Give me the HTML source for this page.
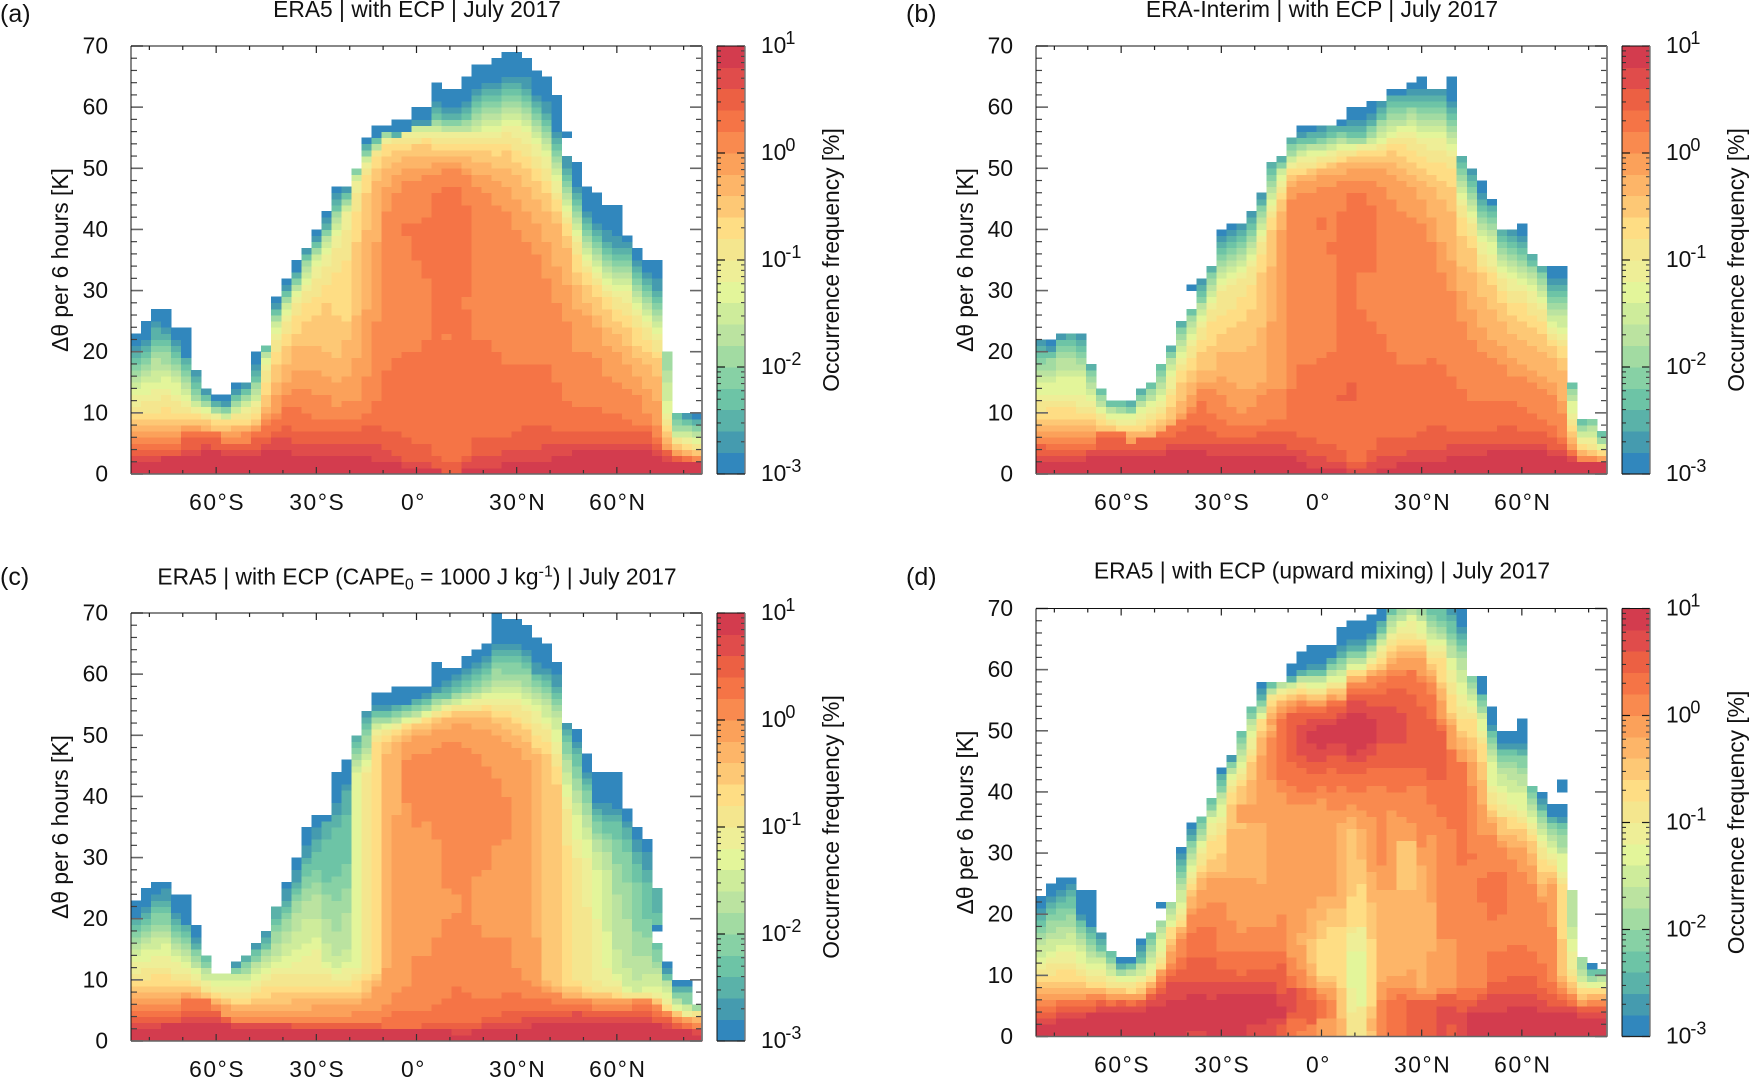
<!DOCTYPE html>
<html lang="en">
<head>
<meta charset="utf-8">
<title>Occurrence frequency of potential temperature change, July 2017</title>
<style>
html,body{margin:0;padding:0;background:#fff;}
svg{display:block;font-family:"Liberation Sans",sans-serif;fill:#111;}
text{font-size:22.8px;}
.plabel{font-size:25px;}
</style>
</head>
<body>
<svg id="figure" width="1749" height="1077" viewBox="0 0 1749 1077" xmlns="http://www.w3.org/2000/svg">
<g id="panel-a" transform="translate(131,46)">
<text class="plabel" x="-131" y="-24">(a)</text>
<text x="286" y="-29" text-anchor="middle">ERA5 | with ECP | July 2017</text>
<text transform="translate(-63,214) rotate(-90)" text-anchor="middle">Δθ per 6 hours [K]</text>
<text transform="translate(708,214) rotate(-90)" text-anchor="middle">Occurrence frequency [%]</text>
</g>
<g id="panel-b" transform="translate(1036,46)">
<text class="plabel" x="-130" y="-24">(b)</text>
<text x="286" y="-29" text-anchor="middle">ERA-Interim | with ECP | July 2017</text>
<text transform="translate(-63,214) rotate(-90)" text-anchor="middle">Δθ per 6 hours [K]</text>
<text transform="translate(708,214) rotate(-90)" text-anchor="middle">Occurrence frequency [%]</text>
</g>
<g id="panel-c" transform="translate(131,613)">
<text class="plabel" x="-131" y="-28">(c)</text>
<text x="286" y="-28.5" text-anchor="middle">ERA5 | with ECP (CAPE<tspan dy="5" font-size="16">0</tspan><tspan dy="-5"> = 1000 J kg</tspan><tspan dy="-8" font-size="16">-1</tspan><tspan dy="8">) | July 2017</tspan></text>
<text transform="translate(-63,214) rotate(-90)" text-anchor="middle">Δθ per 6 hours [K]</text>
<text transform="translate(708,214) rotate(-90)" text-anchor="middle">Occurrence frequency [%]</text>
</g>
<g id="panel-d" transform="translate(1036,608.5)">
<text class="plabel" x="-130" y="-23.5">(d)</text>
<text x="286" y="-29.8" text-anchor="middle">ERA5 | with ECP (upward mixing) | July 2017</text>
<text transform="translate(-63,214) rotate(-90)" text-anchor="middle">Δθ per 6 hours [K]</text>
<text transform="translate(708,214) rotate(-90)" text-anchor="middle">Occurrence frequency [%]</text>
</g>
</svg>
<script>
const levelColors=["#3187bd","#459baf","#5ab2a9","#6dc4a6","#87d1a5","#a2dba2","#bbe3a0","#ceec9b","#e3f59a","#eeee97","#f4e68e","#fedd84","#fdc875","#fdb568","#fba15a","#f98a4f","#f57446","#ec6043","#e04c4b","#d33c4e"];
const xTickLats=[-80,-70,-60,-50,-40,-30,-20,-10,0,10,20,30,40,50,60,70,80];
const xLabelLats=[-60,-30,0,30,60];
const xLabels=["60°S","30°S","0°","30°N","60°N"];
const yLabelValues=[0,10,20,30,40,50,60,70];
const yMinorValues=[0,2,4,6,8,10,12,14,16,18,20,22,24,26,28,30,32,34,36,38,40,42,44,46,48,50,52,54,56,58,60,62,64,66,68,70];
const colorbarExponents=[-3,-2,-1,0,1];
const colorbarMinors=[2,3,4,5,6,7,8,9];

/* Panel a: for each level (0 = blue ... 19 = red), top of that level in K per latitude column */
const aTops=[
[23,25,27,27,24,24,17,14,13,13,15,15,20,21,29,32,35,37,40,43,47,47,50,55,57,57,58,58,60,60,64,63,63,65,67,67,68,69,69,68,66,65,62,52,51,47,46,44,44,39,37,35,35,20,10,10,10],
[21,22,25,24,22,19,17,14,12,12,14,15,18,21,28,31,33,37,39,42,46,47,50,54,55,56,56,56,58,58,61,60,60,61,63,64,64,65,65,65,62,61,56,52,47,43,41,40,39,38,35,33,32,20,10,10,9],
[20,21,24,23,21,19,16,13,12,11,13,14,17,21,27,30,33,36,38,41,45,46,50,54,55,56,56,56,57,57,60,59,59,60,62,63,63,64,64,63,61,59,55,50,46,42,40,38,37,37,34,32,30,20,10,9,9],
[19,20,22,22,20,18,15,13,11,11,13,14,16,21,27,30,32,36,38,40,44,46,50,53,55,56,55,56,57,57,59,58,58,59,61,62,62,63,63,62,60,58,54,49,45,41,39,37,36,36,33,31,29,20,10,9,8],
[18,19,21,21,19,17,14,12,11,11,12,13,15,20,26,29,32,35,37,40,43,45,50,53,54,56,55,56,57,57,58,58,58,58,60,61,61,62,62,61,59,57,53,48,44,40,38,36,35,35,32,30,28,20,9,8,8],
[17,18,20,20,18,16,13,12,11,10,12,13,15,20,26,29,31,35,37,39,43,45,49,52,54,56,55,56,57,57,58,57,57,58,59,60,60,61,61,60,58,56,52,47,43,39,37,35,34,34,31,29,27,20,8,8,7],
[16,17,19,18,17,15,12,11,10,10,11,12,14,20,25,28,31,34,36,39,42,44,49,52,54,55,55,56,57,57,57,57,57,57,58,59,59,60,60,59,57,55,51,46,42,38,36,34,33,33,30,28,26,17,7,7,7],
[15,16,17,17,16,14,12,11,10,10,11,12,13,19,25,28,30,33,36,38,41,44,49,52,53,55,55,56,57,57,57,56,56,56,57,58,58,59,59,58,56,54,50,45,41,37,35,33,32,32,29,27,25,15,7,7,6],
[14,15,15,16,15,13,11,11,10,9,10,11,12,19,24,27,30,32,35,37,40,43,48,51,53,55,55,56,56,56,56,56,56,56,56,57,57,58,58,57,55,53,49,44,40,36,34,32,31,31,28,26,24,12,6,6,6],
[13,13,14,14,13,12,11,10,10,9,10,11,12,18,23,26,29,31,34,36,39,43,48,51,53,55,55,56,56,56,56,56,56,56,56,56,56,57,57,56,54,52,48,43,39,35,33,31,30,30,27,25,23,10,6,6,5],
[11,12,12,13,12,11,10,10,9,9,10,10,11,17,22,25,28,30,32,34,37,40,46,50,53,54,55,55,55,55,55,55,55,55,55,55,55,56,55,54,52,50,46,42,38,34,32,30,29,28,26,24,22,9,6,5,5],
[10,10,10,11,10,10,10,9,9,9,9,9,10,15,20,23,26,28,29,31,33,35,43,49,52,54,54,54,54,55,54,54,54,54,54,54,54,54,53,52,50,48,45,41,36,33,31,29,27,26,24,22,20,8,5,5,4],
[9,9,9,9,9,9,9,9,8,8,8,8,9,13,18,21,23,25,26,28,26,25,38,46,50,52,53,53,54,54,53,53,53,53,53,53,52,53,51,50,48,46,43,39,33,31,29,27,25,24,21,20,19,7,5,4,4],
[8,8,8,8,8,8,8,8,7,7,8,8,8,11,15,18,21,21,21,20,19,22,26,40,48,50,51,52,52,52,52,52,52,52,51,51,50,50,49,47,45,43,41,37,31,28,26,24,23,21,19,18,16,6,4,4,3],
[7,7,7,7,7,8,8,7,7,7,7,7,8,10,13,15,17,17,17,16,15,16,19,27,38,47,49,50,50,50,51,51,51,50,49,49,48,47,45,43,41,38,34,31,27,26,24,21,20,18,16,14,12,5,4,3,3],
[6,6,6,6,6,7,7,7,7,6,6,7,7,9,10,13,14,14,13,13,11,12,12,16,25,43,46,48,48,49,49,50,50,49,47,46,44,43,40,38,36,32,28,25,20,20,19,16,15,14,13,10,8,4,3,3,3],
[5,5,5,5,5,7,7,7,7,5,5,5,7,8,9,11,11,10,9,9,9,9,9,10,12,17,19,20,20,22,46,47,47,44,22,22,20,18,18,18,18,18,15,12,11,11,11,10,10,9,8,8,6,4,3,3,2],
[4,4,4,4,4,6,6,6,6,5,5,5,6,6,7,8,7,7,7,7,7,7,7,8,8,7,7,6,5,5,3,2,2,3,6,6,6,6,7,8,8,8,7,7,7,7,7,7,7,7,7,7,5,4,3,2,2],
[3,3,3,3,3,4,4,5,4,4,4,4,4,5,6,6,5,5,5,5,5,5,5,5,5,4,3,2,2,2,1,0,0,2,3,3,3,4,4,4,4,5,5,5,5,5,5,5,5,5,5,5,4,3,2,2,2],
[2,2,2,3,3,3,3,4,4,3,3,3,3,4,4,4,3,3,3,3,3,3,3,3,2,2,2,1,1,1,1,0,0,1,1,1,1,2,2,2,2,2,3,3,4,4,4,4,4,4,4,4,3,2,2,2,2]
];
/* Isolated regions: level, column, from K, to K */
const aPatches=[[16,27,39,41],[16,28,35,41],[16,29,32,42],[15,31,22,23],[15,33,27,29],[0,43,55,56]];

const bTops=[
[22,22,23,23,23,18,14,12,12,12,14,15,18,21,25,27,32,34,40,41,41,43,46,51,52,55,57,57,57,57,58,60,60,61,61,63,63,64,65,63,63,65,52,50,48,45,40,40,41,36,34,34,34,15,9,9,7],
[22,21,23,23,23,18,14,12,12,12,14,15,18,21,25,27,32,34,39,40,41,43,46,51,52,55,56,56,57,57,57,58,58,59,61,62,62,63,63,63,63,61,52,50,46,44,40,40,39,36,34,32,32,15,9,9,7],
[21,20,22,23,22,18,14,12,12,12,14,15,18,21,25,27,31,34,38,39,40,42,45,51,52,55,55,56,56,57,57,57,57,58,60,62,62,62,62,62,62,60,52,49,45,44,40,39,38,36,34,31,31,15,9,9,7],
[20,20,22,22,21,17,14,12,12,11,13,15,18,20,24,27,30,33,37,38,39,41,44,50,51,54,55,55,55,56,56,56,56,57,59,61,61,61,61,61,61,59,51,48,44,43,39,38,37,35,33,30,30,15,9,9,7],
[19,19,21,21,20,17,13,11,11,11,13,14,17,20,24,26,29,33,36,37,38,40,44,49,51,54,54,54,55,55,56,55,55,57,58,60,60,60,60,60,60,58,50,47,43,42,38,37,36,34,33,29,29,14,8,9,6],
[18,19,20,20,19,16,13,11,11,10,12,14,16,19,23,26,28,32,35,36,37,39,43,48,50,53,54,54,54,55,55,55,55,56,58,59,59,60,59,59,59,57,49,46,42,41,37,36,35,34,32,28,28,14,8,8,6],
[17,17,19,19,18,15,12,11,10,10,12,13,15,19,22,25,28,31,34,35,36,38,42,47,50,52,53,54,54,54,55,54,54,55,57,58,58,59,58,58,58,56,48,45,41,40,36,35,34,33,31,27,27,13,7,8,5],
[16,16,17,17,17,14,11,10,10,10,11,12,14,18,21,24,27,30,33,34,35,37,41,46,50,52,53,53,53,54,54,54,54,55,56,57,57,58,57,57,57,55,47,44,40,39,35,34,33,32,30,26,26,12,7,7,5],
[15,15,16,16,16,13,11,10,10,10,11,12,13,17,20,23,26,29,32,33,34,36,40,45,49,51,52,53,53,53,54,54,54,54,55,56,57,57,56,56,56,54,46,43,39,38,34,33,32,31,29,25,24,12,6,6,5],
[13,13,13,13,13,12,10,9,9,9,10,11,12,16,19,22,25,28,31,32,33,35,39,44,48,51,52,52,52,53,53,53,54,54,54,55,56,56,55,55,55,53,45,42,38,36,33,32,31,30,28,24,23,10,6,6,4],
[12,12,12,12,11,11,10,9,8,8,9,10,11,14,18,21,24,27,30,31,32,34,38,43,47,50,51,51,52,52,53,53,53,53,54,55,55,55,54,53,53,52,44,41,36,34,32,30,30,28,27,23,22,9,5,5,4],
[10,11,11,11,10,10,9,8,8,8,8,9,10,13,17,19,22,25,26,27,29,31,36,42,46,50,50,50,51,51,52,52,53,53,53,54,54,53,52,51,51,50,42,39,34,33,30,28,28,26,25,22,21,8,5,4,4],
[9,9,9,9,9,9,8,8,7,7,7,8,9,11,15,17,20,21,23,24,25,27,33,40,45,49,49,50,50,51,51,52,52,52,52,53,52,51,50,49,48,47,39,37,33,31,28,26,25,24,23,21,19,7,4,4,3],
[8,8,8,8,8,8,7,7,7,7,7,7,8,9,12,15,17,17,20,20,20,21,24,34,43,48,49,49,50,50,51,51,51,51,51,51,50,49,48,47,45,43,34,33,29,27,25,23,22,21,20,19,17,6,4,3,3],
[7,7,7,7,7,7,7,6,6,6,6,6,7,8,10,13,15,15,16,15,14,14,15,25,40,47,48,48,49,49,49,50,50,50,50,49,48,47,45,42,38,35,30,27,24,22,21,19,18,17,16,15,12,5,3,3,3],
[6,6,6,6,6,6,6,6,6,5,5,6,6,7,8,11,14,14,13,11,10,11,13,14,14,45,46,46,47,47,48,48,48,48,47,45,43,42,41,38,33,30,25,22,20,19,18,16,16,15,14,13,10,4,3,3,2],
[5,5,5,5,5,5,7,7,7,5,6,6,7,8,9,10,12,10,9,8,8,8,8,9,9,14,18,18,19,20,43,46,46,44,23,20,18,18,18,19,18,16,14,12,12,12,12,12,11,10,9,8,6,4,2,2,2],
[5,4,4,4,4,4,6,6,6,5,6,6,6,6,7,8,8,7,6,6,6,6,7,7,7,7,6,6,5,5,4,2,2,4,6,6,6,6,7,8,8,7,7,7,7,7,8,8,7,7,7,6,5,3,2,2,2],
[3,3,3,3,3,4,4,4,4,4,4,4,4,5,5,5,5,5,5,5,5,5,5,5,5,4,4,3,3,2,2,1,1,2,3,3,3,4,4,4,4,5,5,5,5,5,5,5,5,5,5,4,4,3,2,2,2],
[2,2,2,2,2,3,3,3,3,3,3,3,3,4,4,4,4,3,3,3,3,3,3,3,3,3,2,1,1,1,1,0,0,0,1,1,2,2,2,2,2,3,3,3,3,4,4,4,4,4,4,3,3,2,2,2,2]
];
const bPatches=[[16,28,40,42],[16,29,36,38],[15,32,27,33],[15,33,25,33],[17,30,12,13],[17,31,12,15],[0,15,30,31]];

/* Panel c: per column, tops of levels 0..14 */
const cColumns=[
[23,20,20,19,18,17,16,15,14,13,11,10,9,8,7],
[25,22,21,20,19,18,17,16,15,13,12,10,9,8,7],
[26,24,23,22,21,19,18,17,15,14,12,11,9,8,7],
[26,25,23,22,21,19,18,17,16,14,12,11,9,8,7],
[24,21,20,19,18,17,16,15,14,13,11,10,9,8,7],
[24,19,19,18,17,16,15,14,13,12,11,10,9,8,8],
[19,17,16,15,15,14,13,12,12,11,10,9,9,8,7],
[14,14,14,14,13,12,12,11,10,10,9,8,8,7,7],
[11,11,11,11,11,11,11,11,10,9,8,8,7,7,6],
[11,11,11,11,11,11,11,11,10,9,8,7,7,6,6],
[13,13,12,12,12,11,11,11,10,9,8,7,6,6,5],
[14,14,14,13,13,12,11,11,10,9,8,7,6,6,5],
[16,16,15,15,14,13,13,12,11,10,9,8,7,6,5],
[18,18,17,16,15,15,14,13,12,11,10,9,7,6,5],
[22,22,22,20,19,18,16,14,13,12,11,9,8,6,5],
[26,25,23,22,21,20,18,16,14,12,11,9,8,6,5],
[30,28,26,25,24,23,21,18,15,13,11,9,8,7,5],
[35,32,30,29,27,25,23,20,16,14,11,9,8,7,5],
[37,35,33,31,28,26,24,20,17,15,11,9,8,7,6],
[37,36,36,33,26,24,20,16,13,12,11,9,8,7,6],
[44,39,37,35,27,23,18,14,12,11,10,9,8,7,6],
[46,42,41,37,29,25,21,15,13,12,10,9,8,7,6],
[50,50,50,49,48,47,46,45,44,12,11,10,8,7,6],
[54,54,53,52,51,50,48,47,46,45,44,11,10,8,7],
[57,55,54,54,53,53,52,52,51,51,50,49,11,10,9],
[57,55,54,54,53,53,52,52,52,51,51,50,49,47,12],
[58,55,55,54,54,53,53,52,52,52,51,51,50,49,37],
[58,55,55,55,54,54,53,53,53,52,52,52,51,50,49],
[58,56,56,55,55,54,54,53,53,53,52,52,52,51,50],
[58,57,56,56,55,55,54,54,54,53,53,53,52,51,50],
[62,58,57,57,56,56,55,55,54,54,54,53,53,52,51],
[61,59,58,57,56,56,56,55,55,55,54,54,53,53,51],
[61,60,59,58,57,57,56,56,55,55,55,54,54,53,52],
[63,61,60,59,58,57,57,56,56,55,55,54,54,53,52],
[64,62,61,60,59,58,57,57,56,56,55,54,54,53,51],
[65,63,62,61,60,59,58,57,57,56,55,55,54,53,51],
[70,65,64,63,62,61,59,58,57,56,55,54,53,52,50],
[69,65,64,63,62,60,59,58,57,56,55,54,53,51,49],
[69,65,64,63,62,60,59,58,57,56,55,53,52,50,48],
[68,64,63,62,61,60,58,57,56,55,54,52,51,49,46],
[66,62,60,60,59,58,57,56,55,54,52,50,48,47,17],
[65,61,60,59,58,57,56,55,53,52,51,49,47,10,9],
[62,60,58,57,56,55,54,53,51,49,47,45,42,9,8],
[52,52,51,50,49,47,46,44,42,40,38,32,9,8,7],
[51,49,48,47,45,43,41,39,37,33,30,10,9,8,7],
[47,44,43,42,41,39,37,35,33,30,22,9,8,7,7],
[44,39,38,37,36,34,33,31,28,20,10,8,8,7,7],
[44,39,37,36,34,33,31,28,18,12,9,8,8,7,7],
[44,38,37,36,33,29,24,15,11,10,9,8,7,7,7],
[38,36,35,33,31,26,20,12,9,8,8,7,7,7,7],
[35,33,31,29,26,18,14,10,8,8,8,7,7,7,7],
[33,31,28,26,20,17,14,11,9,8,8,7,7,7,7],
[25,25,25,21,15,13,12,11,9,8,7,7,7,6,6],
[13,12,11,11,10,10,10,9,8,7,6,6,5,5,5],
[10,9,9,8,8,7,7,6,6,5,5,5,5,4,4],
[10,9,9,8,8,6,6,6,5,5,4,4,4,4,4],
[6,6,6,6,6,6,5,5,5,5,5,4,4,4,3]
];
const cLevel15=[6,6,6,6,6,7,7,7,6,4,4,4,4,4,4,4,4,4,4,4,4,4,5,5,5,6,8,9,14,14,17,20,21,24,19,17,17,17,12,10,9,8,8,7,7,7,6,6,6,6,7,7,6,5,4,3,3];
const cLevel16=[5,5,5,5,5,7,7,7,5,4,3,3,3,3,3,3,3,3,3,3,3,3,3,3,3,4,5,5,5,5,6,7,9,8,7,7,7,8,8,7,7,7,6,6,6,6,5,5,5,5,6,6,5,4,3,3,2];
const cLevel17=[4,4,4,4,4,5,5,5,5,4,3,3,3,3,3,3,3,3,3,3,3,3,3,3,3,2,2,2,2,3,3,3,3,3,3,4,4,5,5,5,5,5,5,5,5,5,5,5,5,5,5,5,4,4,3,2,2];
const cLevel18=[3,3,3,3,3,4,4,4,4,3,3,3,3,3,3,3,2,2,2,2,2,2,2,2,2,2,2,2,2,2,2,2,2,2,2,3,3,3,3,4,4,4,4,4,5,4,4,4,4,4,4,4,3,3,2,2,2];
const cLevel19=[2,2,2,3,3,3,3,3,3,3,2,2,2,2,2,2,2,2,2,2,2,2,2,2,2,2,2,2,2,2,2,2,1,1,2,2,2,2,2,2,3,3,3,3,3,3,3,3,3,3,3,3,3,2,2,2,1];
const cPatches=[[15,27,39,46],[15,28,35,47],[15,29,36,47],[15,30,33,48],[15,31,25,49],[15,32,24,49],[15,33,24,48],[15,34,27,47],[15,35,28,45],[15,36,32,43],[15,37,33,40],[0,52,18,19],[-1,52,16,18]];

/* Panel d: per column, tops of levels 0..19 (central columns carry the rest in dRuns) */
const dColumns=[
[23,21,20,19,18,17,16,15,13,12,11,10,9,8,7,6,5,4,3,2],
[25,23,22,21,20,19,17,16,14,13,12,10,9,8,7,6,5,4,3,2],
[26,24,23,22,21,19,18,16,15,14,12,11,9,8,7,6,6,5,4,3],
[26,25,24,23,21,20,18,17,15,14,12,11,9,8,7,6,6,5,4,3],
[24,20,19,19,18,17,16,15,14,12,11,10,9,8,7,6,6,5,4,3],
[24,18,18,17,16,15,14,13,12,11,10,9,8,8,7,7,6,5,4,4],
[17,17,16,15,14,14,13,13,12,11,10,9,8,8,7,7,6,6,5,4],
[14,14,14,14,13,12,12,11,10,10,9,8,8,7,7,6,6,5,5,4],
[13,12,12,11,11,11,10,10,10,9,9,8,8,7,7,6,6,6,5,4],
[13,12,12,12,11,11,11,10,10,9,9,8,7,7,7,6,6,5,5,4],
[16,15,14,13,12,12,12,11,10,10,9,9,8,7,7,6,6,6,5,4],
[17,17,17,17,16,15,14,13,12,11,10,10,9,9,8,8,7,7,6,5],
[19,19,19,19,19,19,18,17,16,14,13,12,11,11,11,10,9,8,7,5],
[22,22,22,22,22,22,21,20,19,18,18,18,16,15,14,12,11,10,9,6],
[31,30,29,28,27,26,25,24,22,21,20,19,18,18,17,16,13,11,9,6],
[35,34,33,32,32,31,30,29,28,27,26,25,24,23,21,20,17,13,9,7],
[36,36,36,36,35,34,33,32,32,31,30,28,27,26,24,21,18,13,9,7],
[39,39,39,39,38,37,37,36,36,35,33,32,29,27,26,22,18,13,9,6],
[44,43,43,42,41,40,40,39,38,36,35,33,30,27,26,22,14,11,9,7],
[46,46,45,45,45,44,44,43,43,42,41,40,38,34,26,19,14,11,9,7],
[50,50,50,50,49,48,47,46,45,44,43,42,41,34,26,17,14,10,9,7],
[54,54,54,54,53,52,52,51,50,49,47,46,45,42,26,18,14,11,9,7],
[58,57,56,55,55,54,54,53,53,52,52,52,50,49,46,42],
[58,58,58,58,57,57,57,56,56,56,56,55,54,53,52,50],
[58,58,58,58,58,58,58,57,57,57,56,56,55,55,54,53],
[61,59,59,58,58,58,58,58,57,57,57,56,56,55,55,54],
[63,60,60,59,59,59,59,58,58,58,57,57,56,56,55,55],
[64,61,60,60,59,59,59,58,58,57,57,56,56,55,55,54],
[64,61,60,60,59,59,59,58,58,57,57,56,56,55,55,54],
[64,62,62,61,61,60,60,59,59,58,58,57,57,56,56,55],
[67,64,63,62,62,61,60,60,59,58,58,57,57,56,55,55],
[68,65,64,63,63,62,62,61,61,60,60,60,59,59,58,58],
[68,65,64,63,63,62,62,61,61,60,60,60,59,59,58,58],
[69,66,65,65,64,64,63,63,62,62,61,61,60,60,59,59],
[70,68,68,67,66,66,65,65,64,64,63,62,61,60,60,59],
[70,70,70,70,69,69,68,67,66,66,65,64,63,62,61,60],
[70,70,70,70,70,70,69,68,68,67,66,65,64,63,62,60],
[70,70,70,70,70,70,70,69,69,68,66,65,64,63,62,60],
[70,70,70,70,70,70,69,68,68,66,65,65,64,63,62,59],
[70,70,70,70,69,68,67,66,65,64,63,62,61,60,59,58],
[70,70,70,70,68,67,66,65,65,64,63,62,58,57,55,52],
[70,70,69,68,66,65,64,62,62,60,58,56,53,52,51,47],
[70,67,66,65,64,63,62,60,58,56,54,52,50,49,47,45],
[59,59,59,59,59,58,57,56,55,54,53,52,49,47,45,41,8,6,5,4],
[59,56,56,56,55,54,53,53,52,50,49,48,45,42,38,33,8,7,6,4],
[54,51,50,50,49,48,47,46,45,41,40,38,37,36,35,33,14,9,7,4],
[50,48,47,47,46,45,44,43,41,40,38,36,36,33,32,31,14,9,7,4],
[50,48,47,47,46,45,44,42,40,38,37,36,34,33,31,29,15,10,7,5],
[52,48,47,46,46,44,43,41,40,37,36,35,34,32,31,27,15,10,7,5],
[41,41,41,41,40,39,38,37,36,35,34,33,32,30,28,25,14,10,7,5],
[40,39,38,37,37,36,35,34,33,32,31,29,27,25,23,22,12,8,6,4],
[38,36,36,35,35,34,33,32,31,30,29,28,27,26,25,18,9,7,5,4],
[38,36,35,35,34,33,31,30,30,27,26,25,16,10,9,8,7,6,5,4],
[24,24,24,24,24,24,24,18,16,14,11,10,9,8,7,7,6,5,5,4],
[13,13,13,13,13,13,11,10,9,9,8,8,7,6,6,5,5,5,4,3],
[12,11,11,11,10,10,9,9,9,8,8,8,7,7,6,6,5,5,4,3],
[11,11,11,11,10,10,10,9,9,8,8,8,7,7,6,6,5,5,4,3]
];
/* Runs from the bottom: column, then level, top K, level, top K ... */
const dRuns=[
[21,18,2,19,7],
[22,18,2,19,7,18,9,17,11,16,14,15,18,14,25,13,35,14,46,13,49],
[23,18,3,19,7,18,9,17,11,16,14,15,18,14,42,15,49,14,50,13,51],
[24,17,2,18,3,19,5,18,7,17,12,16,14,15,20,14,40,15,42,16,52],
[25,16,3,17,4,18,8,16,10,15,13,14,38,15,41,16,45,17,53],
[26,15,1,16,3,17,8,15,11,14,15,13,17,14,38,15,40,16,44,17,46,18,51,17,53,16,54],
[27,15,2,17,6,16,8,14,10,13,12,12,16,13,21,14,38,15,40,16,43,17,45,18,48,19,50,18,52,17,53,16,54],
[28,14,3,16,6,15,7,14,8,13,9,12,10,11,16,12,19,13,23,14,39,15,41,16,43,17,45,18,47,19,51,18,52,17,53,16,54],
[29,14,3,15,6,14,8,13,9,12,10,11,18,12,21,13,23,14,37,15,40,16,44,17,46,18,48,19,51,18,52,17,54,16,55],
[30,13,3,12,8,11,18,12,21,13,35,14,37,15,41,16,43,17,46,18,48,19,52,18,53,17,54,16,55],
[31,10,4,9,8,8,14,9,17,10,18,11,23,12,34,13,36,14,38,15,40,16,43,17,45,18,46,19,53,18,55,17,56,16,57],
[32,10,5,8,14,9,18,11,25,12,29,13,34,14,37,15,40,16,43,17,45,18,47,19,53,18,55,17,56,16,57],
[33,12,1,13,3,12,5,11,16,12,22,13,27,14,36,15,41,16,44,17,46,18,48,19,52,18,54,17,56,16,57],
[34,15,6,14,9,13,24,14,28,15,41,16,44,17,48,18,54,17,56,16,58],
[35,16,6,15,8,14,10,13,24,14,37,15,40,16,44,17,48,18,54,17,57,16,59],
[36,16,7,15,8,14,10,13,24,12,32,14,36,15,40,16,44,17,48,18,53,17,57,16,59],
[37,17,6,15,8,14,11,13,24,12,32,14,35,15,41,16,44,17,56,16,60],
[38,17,6,15,7,14,8,13,28,14,31,15,41,16,44,17,54,16,58],
[39,17,6,15,7,14,14,13,22,14,33,15,38,16,42,17,52,16,56],
[40,18,5,17,7,15,8,14,16,15,36,16,42,17,50,16,51],
[41,17,2,18,5,17,7,15,8,14,16,15,34,16,47],
[42,18,4,17,6,16,8,15,28,16,45]
];
const dPatches=[[16,44,22,26],[16,45,19,27],[16,46,20,27],[16,43,29,30],[0,12,21,22],[0,52,40,42],[14,20,35,38],[14,21,35,38],[18,15,0,1],[18,16,0,1]];

const SVGNS="http://www.w3.org/2000/svg";
const COLS=57, ROWS=70, PLOT_W=571, PLOT_H=428, CB_X=586, CB_W=28;

function columnsToLevels(columns,count){
  const out=[];
  for(let L=0;L<count;L++){out.push(columns.map(function(col){return col[L]||0;}));}
  return out;
}
const cTops=columnsToLevels(cColumns,15).concat([cLevel15,cLevel16,cLevel17,cLevel18,cLevel19]);
const dTops=columnsToLevels(dColumns,20);

function xScale(lat){return (lat+85.5)/171*PLOT_W;}
function yScale(k){return PLOT_H-k/ROWS*PLOT_H;}
function cbScale(exp){return PLOT_H-(exp+3)/4*PLOT_H;}

function make(tag,attrs,parent){
  const n=document.createElementNS(SVGNS,tag);
  for(const k in attrs){n.setAttribute(k,attrs[k]);}
  parent.appendChild(n);
  return n;
}

function buildGrid(tops,patches,runs){
  const grid=[];
  for(let c=0;c<COLS;c++){grid.push(new Array(ROWS).fill(-1));}
  tops.forEach(function(levelTops,L){
    levelTops.forEach(function(top,c){
      for(let k=0;k<top&&k<ROWS;k++){grid[c][k]=L;}
    });
  });
  runs.forEach(function(run){
    let from=0;
    for(let i=1;i<run.length;i+=2){
      for(let k=from;k<run[i+1];k++){grid[run[0]][k]=run[i];}
      from=run[i+1];
    }
  });
  patches.forEach(function(p){
    for(let k=p[2];k<p[3];k++){grid[p[1]][k]=p[0];}
  });
  return grid;
}

function tick(parent,x1,y1,x2,y2,color,width,name){
  const t=make('line',{x1:x1,y1:y1,x2:x2,y2:y2,stroke:color,'stroke-width':width},parent);
  
  
}

function drawPanel(id,tops,patches,runs){
  const root=document.getElementById('panel-'+id);
  const grid=buildGrid(tops,patches,runs);
  const heat=make('g',{'shape-rendering':'crispEdges'},root);
  
  
  for(let c=0;c<COLS;c++){
    for(let k=0;k<ROWS;k++){
      const lv=grid[c][k];
      if(lv<0){continue;}
      const x0=xScale(-85.5+3*c), x1=xScale(-85.5+3*(c+1));
      const y1=yScale(k), y0=yScale(k+1);
      const r=make('rect',{x:x0,y:y0,width:x1-x0+0.4,height:y1-y0+0.4,fill:levelColors[lv]},heat);
      
      
    }
  }
  xTickLats.forEach(function(lat){
    const major=lat%30===0, len=major?7:4;
    tick(root,xScale(lat),0,xScale(lat),len,'#222',1.2,'x-tick-top');
    tick(root,xScale(lat),PLOT_H,xScale(lat),PLOT_H-len,'#333',1.2,'x-tick-bottom');
  });
  yMinorValues.forEach(function(v){
    const major=v%10===0, len=major?12:6, w=major?1.6:1.2, col=major?'#666':'#444';
    tick(root,0,yScale(v),len,yScale(v),col,w,'y-tick-left');
    tick(root,PLOT_W,yScale(v),PLOT_W-len,yScale(v),col,w,'y-tick-right');
  });
  make('line',{x1:0,y1:0,x2:PLOT_W,y2:0,stroke:'#111','stroke-width':1},root);
  make('line',{x1:0,y1:0,x2:0,y2:PLOT_H,stroke:'#111','stroke-width':1},root);
  make('line',{x1:PLOT_W,y1:0,x2:PLOT_W,y2:PLOT_H,stroke:'#777','stroke-width':1.8},root);
  make('line',{x1:0,y1:PLOT_H,x2:PLOT_W,y2:PLOT_H,stroke:'#666','stroke-width':1.4},root);

  yLabelValues.forEach(function(v){
    const t=make('text',{x:-23,y:yScale(v)+7.5,'text-anchor':'end'},root);
    t.textContent=String(v);
    
    
  });
  xLabels.forEach(function(label,i){
    const t=make('text',{x:xScale(xLabelLats[i])+(label==='0°'?-3:1),y:PLOT_H+36,'text-anchor':'middle','letter-spacing':'1.6'},root);
    t.textContent=label;
    
    
  });

  const bar=make('g',{'shape-rendering':'crispEdges'},root);
  
  
  levelColors.forEach(function(col,i){
    const e0=-3+i*0.2, e1=e0+0.2;
    const r=make('rect',{x:CB_X,y:cbScale(e1),width:CB_W,height:cbScale(e0)-cbScale(e1)+0.4,fill:col},bar);
    
    
  });
  colorbarExponents.forEach(function(exp){
    const y=cbScale(exp);
    tick(root,CB_X,y,CB_X+8,y,'#111',1.2,'colorbar-major-tick');
    tick(root,CB_X+CB_W,y,CB_X+CB_W-8,y,'#222',1.2,'colorbar-major-tick');
    if(exp<1){
      colorbarMinors.forEach(function(m){
        const ym=cbScale(exp+Math.log10(m));
        tick(root,CB_X,ym,CB_X+4,ym,'#333',1.1,'colorbar-minor-tick');
        tick(root,CB_X+CB_W,ym,CB_X+CB_W-4,ym,'#444',1.1,'colorbar-minor-tick');
      });
    }
    const t=make('text',{x:CB_X+CB_W+16,y:y+7},root);
    
    
    t.appendChild(document.createTextNode('10'));
    const s=make('tspan',{dy:-9,dx:-1,'font-size':'18'},t);
    s.textContent=String(exp);
  });
  make('line',{x1:CB_X,y1:0,x2:CB_X+CB_W,y2:0,stroke:'#111','stroke-width':1},root);
  make('line',{x1:CB_X,y1:0,x2:CB_X,y2:PLOT_H,stroke:'#111','stroke-width':1},root);
  make('line',{x1:CB_X+CB_W,y1:0,x2:CB_X+CB_W,y2:PLOT_H,stroke:'#777','stroke-width':1.4},root);
  make('line',{x1:CB_X,y1:PLOT_H,x2:CB_X+CB_W,y2:PLOT_H,stroke:'#222','stroke-width':1.2},root);
}

drawPanel('a',aTops,aPatches,[]);
drawPanel('b',bTops,bPatches,[]);
drawPanel('c',cTops,cPatches,[]);
drawPanel('d',dTops,dPatches,dRuns);
</script>
</body>
</html>
